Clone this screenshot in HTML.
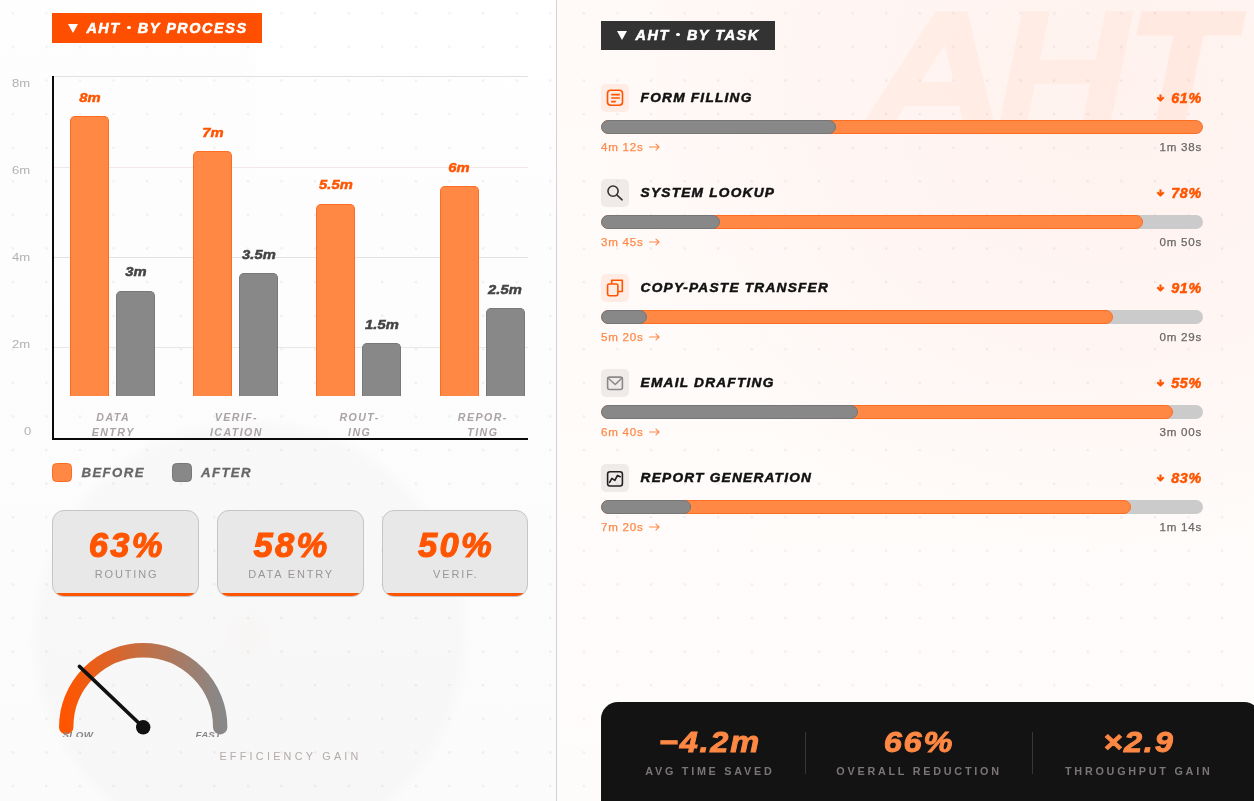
<!DOCTYPE html>
<html>
<head>
<meta charset="utf-8">
<title>AHT Dashboard</title>
<style>
*{box-sizing:border-box;margin:0;padding:0}
html,body{width:1254px;height:801px;overflow:hidden;background:#fdfdfd}
body{font-family:"Liberation Sans",sans-serif;position:relative}
#stage{position:absolute;left:0;top:0;width:1254px;height:801px;overflow:hidden;will-change:transform;opacity:.9999}
.abs{position:absolute}
.bi{font-weight:700;font-style:italic}
#left{position:absolute;left:0;top:0;width:556px;height:801px;
  background:
   radial-gradient(circle 24px at 248px 636px,rgba(255,140,100,.022) 0,rgba(255,140,100,.016) 60%,rgba(255,140,100,0) 100%),
   radial-gradient(circle 222px at 250px 637px,rgba(0,0,0,.014) 0,rgba(0,0,0,.014) 94%,rgba(0,0,0,0) 100%),
   linear-gradient(180deg,#ffffff 0,#fdfdfd 30%,#fbfbfb 100%);}
#divider{position:absolute;left:556px;top:0;width:1px;height:801px;background:#d2d2d2}
#right{position:absolute;left:557px;top:0;width:697px;height:801px;overflow:hidden;
  background:
   radial-gradient(ellipse 520px 470px at 80% 10%,#fff2ee 0,#fff5f2 50%,rgba(255,250,248,0) 100%),
   linear-gradient(180deg,#fffaf8 0,#fefcfb 100%);}
#dots{position:absolute;left:0;top:0;width:1254px;height:801px;pointer-events:none;
  background-image:radial-gradient(circle at 1.2px 1.2px,rgba(70,50,50,.075) 0,rgba(70,50,50,.075) 1px,rgba(0,0,0,0) 1.5px);
  background-size:33.6px 33.6px;background-position:11.7px 12.2px}
.badge{position:absolute;color:#fff;font-weight:700;font-style:italic;font-size:14.4px;white-space:nowrap;letter-spacing:1.58px;-webkit-text-stroke:.55px #fff}
.badge .tri{position:absolute;width:0;height:0;border-left:5.2px solid transparent;border-right:5.2px solid transparent;border-top:9.4px solid #fff}
.md{display:inline-block;width:3.6px;height:3.6px;border-radius:50%;background:#fff;margin:0 7.2px 0 6.2px;vertical-align:3.6px}
/* chart */
.ylab{position:absolute;left:12px;width:30px;transform:scaleX(1.14);transform-origin:0 0;font-size:11.5px;color:#b4b0b0;line-height:12px}
.grid{position:absolute;left:54px;width:474px;height:1px;background:#e6e2e1}
.bar{position:absolute;width:39px;border-radius:5px 5px 0 0;border:1.2px solid;border-bottom:none}
.bar.o{background:#ff8844;border-color:#ff6d22}
.bar.g{background:#888888;border-color:#787878}
.vlab{position:absolute;width:60px;text-align:center;font-weight:700;font-style:italic;font-size:13.4px;line-height:14px;letter-spacing:.1px;-webkit-text-stroke:.5px;transform:scaleX(1.1)}
.vlab.o{color:#ff5500}
.vlab.g{color:#444}
.xlab{position:absolute;width:110px;text-align:center;font-weight:700;font-style:italic;font-size:10.6px;line-height:14.4px;color:#aaa3a3;letter-spacing:1.45px;padding-left:1.4px}
.leg{-webkit-text-stroke:.3px;position:absolute;font-weight:700;font-style:italic;font-size:13.2px;color:#666;letter-spacing:1.4px;line-height:14px}
.sw{position:absolute;width:20px;height:19px;border-radius:4.5px;border:1.2px solid}
/* cards */
.card{position:absolute;top:510.4px;width:146.6px;height:87px;border-radius:12px;background:#e9e8e8;border:1.8px solid #c5c5c5;overflow:hidden}
.card:after{content:"";position:absolute;left:0;right:0;bottom:0;height:3.8px;background:#ff5500}
.card .n{-webkit-text-stroke:1.1px;position:absolute;left:0;right:0;top:14.1px;text-align:center;font-weight:700;font-style:italic;font-size:34.6px;line-height:40px;color:#ff5500;letter-spacing:2.3px;padding-left:2.3px}
.card .l{position:absolute;left:0;right:0;top:55.9px;text-align:center;font-size:11px;line-height:14px;color:#9a9696;letter-spacing:1.85px;padding-left:1.8px}

.ibox{position:absolute;left:601px;width:28px;height:28px;border-radius:5px}
.ibox svg{display:block}
.tname{-webkit-text-stroke:.5px;position:absolute;left:640.6px;font-weight:700;font-style:italic;font-size:13.7px;line-height:18px;color:#111;letter-spacing:1.22px;white-space:nowrap}
.tpct{-webkit-text-stroke:.5px;position:absolute;right:52px;margin-top:-.1px;font-weight:700;font-style:italic;font-size:14.3px;line-height:20px;color:#ff5500;letter-spacing:.75px;white-space:nowrap}
.tpct .ad{margin-right:6.4px;position:relative;top:-.6px}
.t1 .arr{margin-left:5px;position:relative;top:-.5px}
.track{position:absolute;left:601.2px;width:601.8px;height:13.4px;border-radius:7px;background:#cbcbcc;overflow:hidden}
.fo,.fg{position:absolute;left:0;top:0;height:13.4px;border-radius:7px;border:1.2px solid}
.fo{background:#ff8844;border-color:#ff6d22}
.fg{background:#888;border-color:#767676}
.t1,.t2{position:absolute;font-size:11.6px;line-height:14px;letter-spacing:.75px;white-space:nowrap;-webkit-text-stroke:.25px}
.t1{left:601px;color:#ff8a4a}
.t2{right:52px;color:#6b6767}
.sv{-webkit-text-stroke:.9px;position:absolute;top:724.4px;width:200px;text-align:center;font-weight:700;font-style:italic;font-size:29.6px;line-height:36px;color:#ff8844;white-space:nowrap;letter-spacing:1.6px;padding-left:1.6px;transform:scaleX(1.1)}
.sl{position:absolute;top:764px;width:200px;text-align:center;font-weight:700;font-size:10.8px;line-height:14px;color:#7a7676;letter-spacing:2.75px;white-space:nowrap;padding-left:2.7px}
</style>
</head>
<body>
<div id="stage">
<div id="left"></div>
<div id="divider"></div>
<div id="right">
<svg class="abs" style="left:0;top:0" width="697" height="200" viewBox="557 0 697 200">
<g fill="#ff5500" transform="translate(0,130) skewX(-11.6) translate(0,-130)">
<path fill-opacity=".043" fill-rule="evenodd" d="M858.5 130 L911 11.3 H943 L995.6 130 H964.9 L954.3 106 H900.3 L889.7 130 Z M911 82 H943.7 L927.3 45 Z"/>
<path fill-opacity=".043" d="M998 130 V11.3 H1025.5 V59.6 H1081 V11.3 H1109 V130 H1081 V83.8 H1025.5 V130 Z"/>
<path fill-opacity=".06" d="M1117 11.3 H1222 V35.4 H1184 V130 H1154 V35.4 H1117 Z"/>
</g></svg>
</div>
<div id="dots"></div>

<!-- LEFT HEADER -->
<div class="badge" style="left:52px;top:13px;width:210px;height:30px;background:#ff4f00;line-height:30px">
  <span class="tri" style="left:16.4px;top:10.6px"></span>
  <span class="abs" style="left:34.4px;top:0">AHT<i class="md"></i>BY PROCESS</span>
</div>

<!-- CHART -->
<div class="ylab" style="top:77px">8m</div>
<div class="ylab" style="top:164px">6m</div>
<div class="ylab" style="top:251px">4m</div>
<div class="ylab" style="top:338px">2m</div>
<div class="ylab" style="top:425px;left:24px">0</div>
<div class="grid" style="top:76px;background:#e2e0e0"></div>
<div class="grid" style="top:166.6px;background:#f1e9e7"></div>
<div class="grid" style="top:257px;background:#e4e2e2"></div>
<div class="grid" style="top:347.4px;background:#ece6e5"></div>
<div class="abs" style="left:52px;top:76px;width:2.4px;height:364px;background:#0a0a0a"></div>
<div class="abs" style="left:52px;top:437.6px;width:476.4px;height:2.4px;background:#0a0a0a"></div>
<div class="bar o" style="left:70.0px;top:116.3px;height:279.3px"></div>
<div class="vlab o" style="left:59.5px;top:90.8px">8m</div>
<div class="bar g" style="left:116.0px;top:290.9px;height:104.7px"></div>
<div class="vlab g" style="left:105.5px;top:265.4px">3m</div>
<div class="xlab" style="left:57.5px;top:410.2px">DATA<br>ENTRY</div>
<div class="bar o" style="left:193.2px;top:151.2px;height:244.4px"></div>
<div class="vlab o" style="left:182.7px;top:125.7px">7m</div>
<div class="bar g" style="left:239.2px;top:273.4px;height:122.2px"></div>
<div class="vlab g" style="left:228.7px;top:247.9px">3.5m</div>
<div class="xlab" style="left:180.7px;top:410.2px">VERIF-<br>ICATION</div>
<div class="bar o" style="left:316.4px;top:203.6px;height:192.0px"></div>
<div class="vlab o" style="left:305.9px;top:178.1px">5.5m</div>
<div class="bar g" style="left:362.4px;top:343.2px;height:52.4px"></div>
<div class="vlab g" style="left:351.9px;top:317.7px">1.5m</div>
<div class="xlab" style="left:303.9px;top:410.2px">ROUT-<br>ING</div>
<div class="bar o" style="left:439.6px;top:186.1px;height:209.5px"></div>
<div class="vlab o" style="left:429.1px;top:160.6px">6m</div>
<div class="bar g" style="left:485.6px;top:308.3px;height:87.3px"></div>
<div class="vlab g" style="left:475.1px;top:282.8px">2.5m</div>
<div class="xlab" style="left:427.1px;top:410.2px">REPOR-<br>TING</div>

<!-- LEGEND -->
<div class="sw" style="left:52px;top:463px;background:#ff8844;border-color:#ff6d22"></div>
<div class="leg" style="left:81.5px;top:466px">BEFORE</div>
<div class="sw" style="left:172px;top:463px;background:#888;border-color:#787878"></div>
<div class="leg" style="left:201px;top:466px">AFTER</div>

<!-- CARDS -->
<div class="card" style="left:52.4px"><div class="n">63%</div><div class="l">ROUTING</div></div>
<div class="card" style="left:217px"><div class="n">58%</div><div class="l">DATA ENTRY</div></div>
<div class="card" style="left:381.6px"><div class="n">50%</div><div class="l">VERIF.</div></div>

<svg class="abs" style="left:52px;top:630px" width="200" height="107" viewBox="52 630 200 107">
<defs><linearGradient id="gg" gradientUnits="userSpaceOnUse" x1="66" y1="0" x2="220" y2="0"><stop offset="0" stop-color="#ff5500"/><stop offset="1" stop-color="#888888"/></linearGradient></defs>
<path d="M66.2 727.2 A77 77 0 0 1 220.2 727.2" fill="none" stroke="url(#gg)" stroke-width="14.4" stroke-linecap="round"/>
<text x="62.4" y="738.4" font-family="Liberation Sans, sans-serif" font-weight="700" font-style="italic" font-size="9.8" fill="#8a8686" letter-spacing=".4">SLOW</text>
<text x="195.6" y="738.4" font-family="Liberation Sans, sans-serif" font-weight="700" font-style="italic" font-size="9.8" fill="#8a8686" letter-spacing=".1">FAST</text>
<line x1="143.2" y1="727.2" x2="79.4" y2="666.4" stroke="#111" stroke-width="3.6" stroke-linecap="round"/>
<circle cx="143.2" cy="727.3" r="7.2" fill="#111"/>
</svg>
<div class="abs" style="left:219.4px;top:749px;font-size:10.8px;line-height:14px;color:#b4aaa8;letter-spacing:3.26px;white-space:nowrap">EFFICIENCY GAIN</div>

<div class="badge" style="left:601.2px;top:21px;width:173.6px;height:28.7px;background:#333;line-height:28.7px">
  <span class="tri" style="left:16px;top:10px"></span>
  <span class="abs" style="left:34.4px;top:0">AHT<i class="md"></i>BY TASK</span>
</div>
<div class="ibox" style="top:84px;background:#ffece4"><svg width="28" height="28" viewBox="0 0 28 28" fill="none" stroke="#ff5500" stroke-width="1.6" stroke-linecap="round" stroke-linejoin="round"><rect x="6.5" y="6.3" width="15" height="15" rx="3.2"/><path d="M10.2 10.7h8.7M10.2 14h8.7M10.2 17.6h4.6" stroke-width="1.7" stroke-linecap="butt"/></svg></div>
<div class="tname" style="top:89px">FORM FILLING</div>
<div class="tpct" style="top:88px"><svg class="ad" width="9" height="8" viewBox="0 0 9 8"><path d="M4.5 .4v5.2M1.3 3.3L4.5 6.5 7.7 3.3" fill="none" stroke="#ff5500" stroke-width="2.1" stroke-linecap="butt" stroke-linejoin="round"/></svg>61%</div>
<div class="track" style="top:120.2px"><div class="fo" style="width:601.8px"></div><div class="fg" style="width:234.7px"></div></div>
<div class="t1" style="top:140.4px">4m 12s<svg class="arr" width="11" height="8" viewBox="0 0 11 8"><path d="M.5 4h9.6M7 1.2L10 4 7 6.8" fill="none" stroke="#ff8a4a" stroke-width="1.1" stroke-linecap="round" stroke-linejoin="round"/></svg></div><div class="t2" style="top:140.4px">1m 38s</div>
<div class="ibox" style="top:179px;background:rgba(40,30,30,.07)"><svg width="28" height="28" viewBox="0 0 28 28" fill="none" stroke="#333" stroke-width="1.6" stroke-linecap="round" stroke-linejoin="round"><circle cx="12.05" cy="12.1" r="5.1"/><path d="M15.8 15.8l5.3 5"/></svg></div>
<div class="tname" style="top:184px">SYSTEM LOOKUP</div>
<div class="tpct" style="top:183px"><svg class="ad" width="9" height="8" viewBox="0 0 9 8"><path d="M4.5 .4v5.2M1.3 3.3L4.5 6.5 7.7 3.3" fill="none" stroke="#ff5500" stroke-width="2.1" stroke-linecap="butt" stroke-linejoin="round"/></svg>78%</div>
<div class="track" style="top:215.2px"><div class="fo" style="width:541.6px"></div><div class="fg" style="width:119.2px"></div></div>
<div class="t1" style="top:235.4px">3m 45s<svg class="arr" width="11" height="8" viewBox="0 0 11 8"><path d="M.5 4h9.6M7 1.2L10 4 7 6.8" fill="none" stroke="#ff8a4a" stroke-width="1.1" stroke-linecap="round" stroke-linejoin="round"/></svg></div><div class="t2" style="top:235.4px">0m 50s</div>
<div class="ibox" style="top:274px;background:#ffece4"><svg width="28" height="28" viewBox="0 0 28 28" fill="none" stroke="#ff5500" stroke-width="1.6" stroke-linecap="round" stroke-linejoin="round"><path d="M10.7 8.9V6.2h10.6v11.3h-4"/><rect x="6.6" y="10" width="10.3" height="11.7" rx="1.6"/></svg></div>
<div class="tname" style="top:279px">COPY-PASTE TRANSFER</div>
<div class="tpct" style="top:278px"><svg class="ad" width="9" height="8" viewBox="0 0 9 8"><path d="M4.5 .4v5.2M1.3 3.3L4.5 6.5 7.7 3.3" fill="none" stroke="#ff5500" stroke-width="2.1" stroke-linecap="butt" stroke-linejoin="round"/></svg>91%</div>
<div class="track" style="top:310.2px"><div class="fo" style="width:511.5px"></div><div class="fg" style="width:46.0px"></div></div>
<div class="t1" style="top:330.4px">5m 20s<svg class="arr" width="11" height="8" viewBox="0 0 11 8"><path d="M.5 4h9.6M7 1.2L10 4 7 6.8" fill="none" stroke="#ff8a4a" stroke-width="1.1" stroke-linecap="round" stroke-linejoin="round"/></svg></div><div class="t2" style="top:330.4px">0m 29s</div>
<div class="ibox" style="top:369px;background:rgba(40,30,30,.07)"><svg width="28" height="28" viewBox="0 0 28 28" fill="none" stroke="#8a8a8a" stroke-width="1.6" stroke-linecap="round" stroke-linejoin="round"><rect x="6.6" y="8.1" width="14.8" height="12.4" rx="2"/><path d="M7 9l7.2 6.5L21 9"/></svg></div>
<div class="tname" style="top:374px">EMAIL DRAFTING</div>
<div class="tpct" style="top:373px"><svg class="ad" width="9" height="8" viewBox="0 0 9 8"><path d="M4.5 .4v5.2M1.3 3.3L4.5 6.5 7.7 3.3" fill="none" stroke="#ff5500" stroke-width="2.1" stroke-linecap="butt" stroke-linejoin="round"/></svg>55%</div>
<div class="track" style="top:405.2px"><div class="fo" style="width:571.7px"></div><div class="fg" style="width:257.3px"></div></div>
<div class="t1" style="top:425.4px">6m 40s<svg class="arr" width="11" height="8" viewBox="0 0 11 8"><path d="M.5 4h9.6M7 1.2L10 4 7 6.8" fill="none" stroke="#ff8a4a" stroke-width="1.1" stroke-linecap="round" stroke-linejoin="round"/></svg></div><div class="t2" style="top:425.4px">3m 00s</div>
<div class="ibox" style="top:464px;background:rgba(40,30,30,.07)"><svg width="28" height="28" viewBox="0 0 28 28" fill="none" stroke="#222" stroke-width="1.6" stroke-linecap="round" stroke-linejoin="round"><rect x="6.6" y="7.7" width="14.8" height="14.3" rx="2.4"/><path d="M8.6 18.4l2.3-4 2.9 2 2.7-5 2.7 1.3" stroke-width="1.7"/></svg></div>
<div class="tname" style="top:469px">REPORT GENERATION</div>
<div class="tpct" style="top:468px"><svg class="ad" width="9" height="8" viewBox="0 0 9 8"><path d="M4.5 .4v5.2M1.3 3.3L4.5 6.5 7.7 3.3" fill="none" stroke="#ff5500" stroke-width="2.1" stroke-linecap="butt" stroke-linejoin="round"/></svg>83%</div>
<div class="track" style="top:500.2px"><div class="fo" style="width:529.6px"></div><div class="fg" style="width:90.0px"></div></div>
<div class="t1" style="top:520.4px">7m 20s<svg class="arr" width="11" height="8" viewBox="0 0 11 8"><path d="M.5 4h9.6M7 1.2L10 4 7 6.8" fill="none" stroke="#ff8a4a" stroke-width="1.1" stroke-linecap="round" stroke-linejoin="round"/></svg></div><div class="t2" style="top:520.4px">1m 14s</div>

<div class="abs" style="left:601.4px;top:702.2px;width:660px;height:110px;background:#141313;border-radius:17px 17px 0 0"></div>
<div class="abs" style="left:804.6px;top:731.5px;width:1px;height:42px;background:#383636"></div>
<div class="abs" style="left:1032px;top:731.5px;width:1px;height:42px;background:#383636"></div>
<div class="sv" style="left:608.5px">&minus;4.2m</div><div class="sl" style="left:608.5px">AVG TIME SAVED</div>
<div class="sv" style="left:817.7px">66%</div><div class="sl" style="left:817.7px">OVERALL REDUCTION</div>
<div class="sv" style="left:1038px">&times;2.9</div><div class="sl" style="left:1037.4px">THROUGHPUT GAIN</div>
</div>
</body>
</html>
